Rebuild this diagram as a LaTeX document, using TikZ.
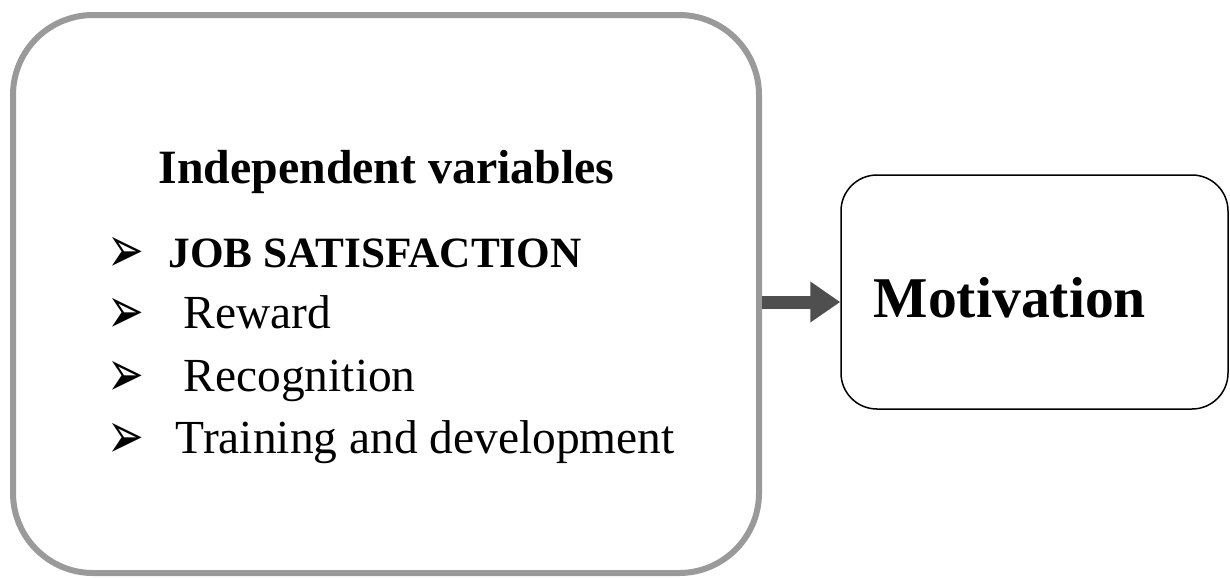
\documentclass[tikz,border=0pt]{standalone}
\usepackage{graphicx}
\usepackage{fontspec}
\setmainfont{Liberation Serif}
\newfontfamily\dejavu{DejaVu Sans}
\usetikzlibrary{arrows.meta, positioning}
\definecolor{cframe}{HTML}{9A9A9A}
\definecolor{carrow}{HTML}{4F4F4F}
\tikzset{
  every picture/.style={line width=0.03cm},
  frame/.style={draw=cframe, line width=0.12cm, rounded corners=1.6cm, minimum width=14.92cm, minimum height=11.16cm, inner sep=0pt},
  target/.style={draw=black, line width=0.03cm, rounded corners=0.72cm, minimum width=7.74cm, minimum height=4.68cm, inner sep=0pt},
  fat/.style={-{Triangle[length=0.6cm, width=0.78cm]}, draw=carrow, line width=0.26cm},
  heading/.style={font=\bfseries\fontsize{27.2pt}{32pt}\selectfont, anchor=base west, inner sep=0pt},
  item/.style={font=\fontsize{27pt}{32pt}\selectfont, anchor=base west, inner sep=0pt},
  bullet/.style={font=\dejavu\fontsize{25pt}{30pt}\selectfont, anchor=base west, inner sep=0pt},
}
\newcommand{\arrowhd}{\scalebox{1}[1.5]{➢}}

\begin{document}
\begin{tikzpicture}
  \useasboundingbox (0,0) rectangle (24.6,-11.54);

  % boxes
  \node[frame]  (lbox) at (7.72,-5.88) {};
  \node[target] (rbox) at (20.69,-5.84) {};

  % left box text
  \node[heading] (head) at (3.16,-3.66) {Independent variables};
  \node[bullet] (b1) at (2.14,-5.44) {\arrowhd};
  \node[bullet] (b2) at (2.14,-6.66) {\arrowhd};
  \node[bullet] (b3) at (2.14,-7.92) {\arrowhd};
  \node[bullet] (b4) at (2.14,-9.16) {\arrowhd};
  \node[item, font=\bfseries\fontsize{24.6pt}{30pt}\selectfont] (job) at (3.36,-5.34) {JOB SATISFACTION};
  \node[item] (rew) at (3.66,-6.56) {Reward};
  \node[item] (rec) at (3.66,-7.82) {Recognition};
  \node[item] (tra) at (3.50,-9.06) {Training and development};

  % right box text
  \node[heading, font=\bfseries\fontsize{32.8pt}{38pt}\selectfont] (mot) at (17.46,-6.34) {Motivation};

  % arrow
  \coordinate (mid) at (0,-6.04);
  \draw[fat] (lbox.east |- mid) -- (rbox.west |- mid);
\end{tikzpicture}
\end{document}
